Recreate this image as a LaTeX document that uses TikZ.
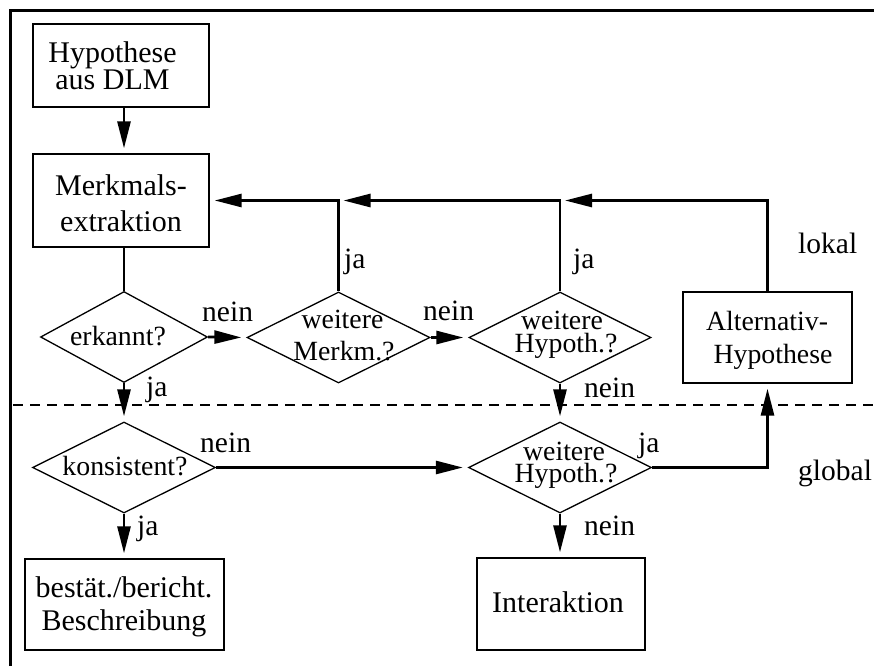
\documentclass[tikz,border=0pt]{standalone}
\usepackage{fontspec}
\setmainfont{Liberation Serif}
\usetikzlibrary{shapes.geometric,arrows.meta}
\begin{document}
\begin{tikzpicture}[x=1pt,y=-1pt,
 bx/.style={draw,line width=1.3pt,inner sep=0pt,rectangle},
 dia/.style={draw,diamond,line width=1.3pt,inner sep=0pt,minimum height=91pt},
 txt/.style={anchor=base,inner sep=0pt,font=\fontsize{30}{30}\selectfont},
 stxt/.style={anchor=base,inner sep=0pt,font=\fontsize{27.8}{28}\selectfont},
 lbl/.style={anchor=base west,inner sep=0pt,font=\fontsize{29.5}{30}\selectfont},
 arr/.style={line width=2.7pt,-{Triangle[length=27pt,width=13pt]},shorten >=5pt},
 sep/.style={line width=1.3pt,dash pattern=on 10pt off 7pt}]

\useasboundingbox (0,0) rectangle (874,666);

% frame
\coordinate (fA) at (10.5,666);
\coordinate (fB) at (10.5,10.5);
\coordinate (fC) at (874,10.5);
\draw[line width=3.3pt] (fA) -- (fB) -- (fC);

% separator
\coordinate (sL) at (13,405);
\coordinate (sR) at (874,405);
\draw[sep] (sL) -- (sR);

% shapes
\node[bx,minimum width=176pt,minimum height=83pt] (hyp) at (121,65.5) {};
\node[bx,minimum width=176pt,minimum height=93pt] (merk) at (121,200.5) {};
\node[dia,minimum width=167pt] (erk) at (124,337) {};
\node[dia,minimum width=183pt] (wm) at (338.5,337.5) {};
\node[dia,minimum width=182pt] (wh1) at (560,337.5) {};
\node[bx,minimum width=169pt,minimum height=91pt] (alt) at (767.5,337.5) {};
\node[dia,minimum width=183pt] (kon) at (124,467.5) {};
\node[dia,minimum width=183pt] (wh2) at (560,467.5) {};
\node[bx,minimum width=199pt,minimum height=91pt] (best) at (124.5,604.5) {};
\node[bx,minimum width=168pt,minimum height=92pt] (inter) at (561,604) {};

% texts
\node[txt] (t1) at (112.5,63) {Hypothese};
\node[txt] (t2) at (112.5,90) {aus DLM};
\node[txt] (t3) at (121,195) {Merkmals-};
\node[txt] (t4) at (121,231) {extraktion};
\node[stxt] (t5) at (118,345) {erkannt?};
\node[stxt] (t6) at (342.5,328) {weitere};
\node[stxt] (t7) at (344,360) {Merkm.?};
\node[stxt] (t8) at (562,329) {weitere};
\node[stxt] (t9) at (566,352) {Hypoth.?};
\node[stxt] (t10) at (767,330) {Alternativ-};
\node[stxt] (t11) at (773,363) {Hypothese};
\node[stxt] (t12) at (125,475) {konsistent?};
\node[stxt] (t13) at (564,460) {weitere};
\node[stxt] (t14) at (566,482) {Hypoth.?};
\node[txt] (t15) at (124,597) {bestät./bericht.};
\node[txt] (t16) at (124,630) {Beschreibung};
\node[txt] (t17) at (558,612) {Interaktion};

% labels
\node[lbl] (l1) at (202,321) {nein};
\node[lbl] (l2) at (423,320) {nein};
\node[lbl] (l3) at (344,268) {ja};
\node[lbl] (l4) at (573,268) {ja};
\node[lbl] (l5) at (146,396) {ja};
\node[lbl] (l6) at (584,397) {nein};
\node[lbl] (l7) at (200,452) {nein};
\node[lbl] (l8) at (137,535) {ja};
\node[lbl] (l9) at (584,535) {nein};
\node[lbl] (l10) at (638,452) {ja};
\node[lbl] (l11) at (798,253) {lokal};
\node[lbl] (l12) at (798,480) {global};

% connectors
\coordinate (j1) at (wm.north |- merk.east);
\coordinate (j2) at (wh1.north |- merk.east);
\coordinate (j3) at (alt.north |- merk.east);
\draw[arr] (erk.north |- hyp.south) -- (erk.north |- merk.north);
\draw[line width=2.7pt] (erk.north |- merk.south) -- (erk.north);
\draw[arr] (erk.east) -- (wm.west);
\draw[arr] (wm.east) -- (wh1.west);
\draw[arr] (wm.north) -- (j1) -- (merk.east);
\draw[arr] (wh1.north) -- (j2) -- (j1);
\draw[arr] (alt.north) -- (j3) -- (j2);
\draw[arr] (erk.south) -- (kon.north);
\draw[arr] (wh1.south) -- (wh2.north);
\draw[arr] (kon.east) -- (wh2.west);
\draw[arr] (kon.south) -- (kon.south |- best.north);
\draw[arr] (wh2.south) -- (wh2.south |- inter.north);
\draw[arr] (wh2.east) -| (alt.south);
\end{tikzpicture}
\end{document}
